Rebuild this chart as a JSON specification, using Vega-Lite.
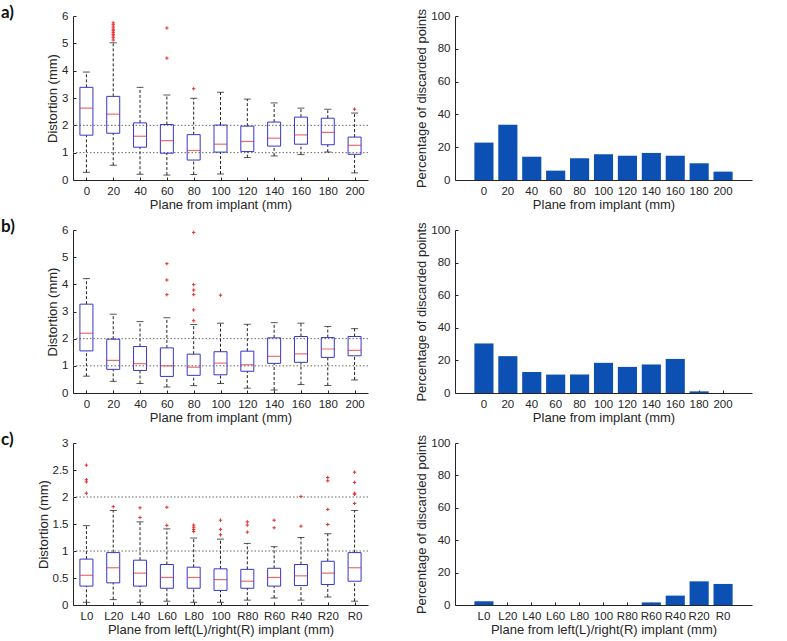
{
  "$schema": "https://vega.github.io/schema/vega-lite/v6.json",
  "background": "white",
  "padding": {"left": 1, "top": 4, "right": 5, "bottom": 0},
  "datasets": {
    "boxA": [
      {"pos": "0", "lo": 0.28, "q1": 1.64, "med": 2.63, "q3": 3.39, "hi": 3.95},
      {"pos": "20", "lo": 0.54, "q1": 1.71, "med": 2.41, "q3": 3.06, "hi": 5.02},
      {"pos": "40", "lo": 0.21, "q1": 1.2, "med": 1.6, "q3": 2.09, "hi": 3.39},
      {"pos": "60", "lo": 0.18, "q1": 0.98, "med": 1.44, "q3": 2.03, "hi": 3.11},
      {"pos": "80", "lo": 0.2, "q1": 0.73, "med": 1.08, "q3": 1.66, "hi": 2.99},
      {"pos": "100", "lo": 0.22, "q1": 1.02, "med": 1.31, "q3": 2.01, "hi": 3.21},
      {"pos": "120", "lo": 0.82, "q1": 1.04, "med": 1.41, "q3": 1.97, "hi": 2.96},
      {"pos": "140", "lo": 0.88, "q1": 1.24, "med": 1.53, "q3": 2.12, "hi": 2.82},
      {"pos": "160", "lo": 0.93, "q1": 1.31, "med": 1.65, "q3": 2.3, "hi": 2.63},
      {"pos": "180", "lo": 1.02, "q1": 1.29, "med": 1.74, "q3": 2.26, "hi": 2.59},
      {"pos": "200", "lo": 0.26, "q1": 0.94, "med": 1.27, "q3": 1.57, "hi": 2.45}
    ],
    "outA": [
      {"pos": "20", "v": 5.12}, {"pos": "20", "v": 5.2}, {"pos": "20", "v": 5.27}, {"pos": "20", "v": 5.33},
      {"pos": "20", "v": 5.4}, {"pos": "20", "v": 5.46}, {"pos": "20", "v": 5.52}, {"pos": "20", "v": 5.6},
      {"pos": "20", "v": 5.68}, {"pos": "20", "v": 5.75},
      {"pos": "60", "v": 5.56}, {"pos": "60", "v": 4.46},
      {"pos": "80", "v": 3.34},
      {"pos": "200", "v": 2.59}
    ],
    "boxB": [
      {"pos": "0", "lo": 0.62, "q1": 1.55, "med": 2.2, "q3": 3.27, "hi": 4.21},
      {"pos": "20", "lo": 0.43, "q1": 0.87, "med": 1.2, "q3": 1.98, "hi": 2.9},
      {"pos": "40", "lo": 0.35, "q1": 0.83, "med": 1.08, "q3": 1.71, "hi": 2.63},
      {"pos": "60", "lo": 0.22, "q1": 0.61, "med": 1.0, "q3": 1.66, "hi": 2.77},
      {"pos": "80", "lo": 0.27, "q1": 0.65, "med": 0.95, "q3": 1.43, "hi": 2.52},
      {"pos": "100", "lo": 0.35, "q1": 0.67, "med": 1.1, "q3": 1.52, "hi": 2.57},
      {"pos": "120", "lo": 0.18, "q1": 0.8, "med": 1.04, "q3": 1.54, "hi": 2.53},
      {"pos": "140", "lo": 0.11, "q1": 1.09, "med": 1.35, "q3": 2.03, "hi": 2.59},
      {"pos": "160", "lo": 0.31, "q1": 1.13, "med": 1.44, "q3": 2.08, "hi": 2.57},
      {"pos": "180", "lo": 0.28, "q1": 1.31, "med": 1.62, "q3": 2.04, "hi": 2.45},
      {"pos": "200", "lo": 0.48, "q1": 1.37, "med": 1.57, "q3": 2.08, "hi": 2.37}
    ],
    "outB": [
      {"pos": "60", "v": 4.76}, {"pos": "60", "v": 4.16}, {"pos": "60", "v": 3.62},
      {"pos": "80", "v": 5.91}, {"pos": "80", "v": 3.99}, {"pos": "80", "v": 3.79},
      {"pos": "80", "v": 3.62}, {"pos": "80", "v": 3.06}, {"pos": "80", "v": 2.66},
      {"pos": "100", "v": 3.6}
    ],
    "boxC": [
      {"pos": "L0", "lo": 0.05, "q1": 0.35, "med": 0.55, "q3": 0.85, "hi": 1.47},
      {"pos": "L20", "lo": 0.1, "q1": 0.41, "med": 0.69, "q3": 0.97, "hi": 1.75},
      {"pos": "L40", "lo": 0.05, "q1": 0.35, "med": 0.59, "q3": 0.83, "hi": 1.54},
      {"pos": "L60", "lo": 0.07, "q1": 0.31, "med": 0.51, "q3": 0.75, "hi": 1.41},
      {"pos": "L80", "lo": 0.05, "q1": 0.31, "med": 0.51, "q3": 0.7, "hi": 1.24},
      {"pos": "100", "lo": 0.05, "q1": 0.27, "med": 0.47, "q3": 0.67, "hi": 1.22},
      {"pos": "R80", "lo": 0.09, "q1": 0.31, "med": 0.44, "q3": 0.66, "hi": 1.14},
      {"pos": "R60", "lo": 0.13, "q1": 0.35, "med": 0.51, "q3": 0.68, "hi": 1.08},
      {"pos": "R40", "lo": 0.09, "q1": 0.36, "med": 0.54, "q3": 0.75, "hi": 1.25},
      {"pos": "R20", "lo": 0.15, "q1": 0.38, "med": 0.59, "q3": 0.81, "hi": 1.32},
      {"pos": "R0", "lo": 0.07, "q1": 0.44, "med": 0.69, "q3": 0.97, "hi": 1.75}
    ],
    "outC": [
      {"pos": "L0", "v": 2.59}, {"pos": "L0", "v": 2.32}, {"pos": "L0", "v": 2.28}, {"pos": "L0", "v": 2.07},
      {"pos": "L20", "v": 1.82},
      {"pos": "L40", "v": 1.8}, {"pos": "L40", "v": 1.62},
      {"pos": "L60", "v": 1.81}, {"pos": "L60", "v": 1.475},
      {"pos": "L80", "v": 1.48}, {"pos": "L80", "v": 1.44}, {"pos": "L80", "v": 1.4}, {"pos": "L80", "v": 1.36},
      {"pos": "100", "v": 1.57}, {"pos": "100", "v": 1.4}, {"pos": "100", "v": 1.3},
      {"pos": "R80", "v": 1.54}, {"pos": "R80", "v": 1.48}, {"pos": "R80", "v": 1.35},
      {"pos": "R60", "v": 1.57}, {"pos": "R60", "v": 1.43},
      {"pos": "R40", "v": 2.01}, {"pos": "R40", "v": 1.46},
      {"pos": "R20", "v": 2.36}, {"pos": "R20", "v": 2.3}, {"pos": "R20", "v": 1.77}, {"pos": "R20", "v": 1.49},
      {"pos": "R0", "v": 2.46}, {"pos": "R0", "v": 2.27}, {"pos": "R0", "v": 2.07}, {"pos": "R0", "v": 2.05}, {"pos": "R0", "v": 1.88}
    ],
    "refs": [{"ref": 1}, {"ref": 2}],
    "barA": [
      {"pos": "0", "pct": 22.8}, {"pos": "20", "pct": 33.7}, {"pos": "40", "pct": 14.2},
      {"pos": "60", "pct": 5.7}, {"pos": "80", "pct": 13.2}, {"pos": "100", "pct": 15.7},
      {"pos": "120", "pct": 14.8}, {"pos": "140", "pct": 16.5}, {"pos": "160", "pct": 14.8},
      {"pos": "180", "pct": 10.2}, {"pos": "200", "pct": 5.1}
    ],
    "barB": [
      {"pos": "0", "pct": 30.4}, {"pos": "20", "pct": 22.6}, {"pos": "40", "pct": 12.9},
      {"pos": "60", "pct": 11.3}, {"pos": "80", "pct": 11.3}, {"pos": "100", "pct": 18.5},
      {"pos": "120", "pct": 16.0}, {"pos": "140", "pct": 17.5}, {"pos": "160", "pct": 20.9},
      {"pos": "180", "pct": 1.0}, {"pos": "200", "pct": 0}
    ],
    "barC": [
      {"pos": "L0", "pct": 2.3}, {"pos": "L20", "pct": 0}, {"pos": "L40", "pct": 0},
      {"pos": "L60", "pct": 0}, {"pos": "L80", "pct": 0}, {"pos": "100", "pct": 0},
      {"pos": "R80", "pct": 0}, {"pos": "R60", "pct": 1.6}, {"pos": "R40", "pct": 5.8},
      {"pos": "R20", "pct": 14.6}, {"pos": "R0", "pct": 13.0}
    ]
  },
  "columns": 2,
  "spacing": {"row": 6, "column": 46},
  "concat": [
    {
      "title": {"text": "a)", "anchor": "start", "frame": "group", "dx": -72, "dy": 25, "offset": 0, "baseline": "alphabetic", "font": "Lato", "fontSize": 17, "fontWeight": "bold", "color": "#111111"},
      "width": 295, "height": 164,
      "data": {"name": "boxA"},
      "layer": [
        {"data": {"name": "refs"}, "mark": {"type": "rule", "color": "#666666", "strokeDash": [1.5, 2], "strokeWidth": 1},
         "encoding": {"y": {"field": "ref", "type": "quantitative", "title": "Distortion (mm)", "scale": {"domain": [0, 6], "nice": false}, "axis": {"values": [0, 1, 2, 3, 4, 5, 6], "format": "~g"}}}},
        {"mark": {"type": "rule", "color": "#222222", "strokeDash": [3, 2], "strokeWidth": 1},
         "encoding": {"x": {"field": "pos", "type": "nominal", "title": "Plane from implant (mm)", "scale": {"type": "point", "padding": 0.5, "domain": ["0","20","40","60","80","100","120","140","160","180","200"]}},
                      "y": {"field": "lo", "type": "quantitative", "title": "Distortion (mm)", "scale": {"domain": [0, 6], "nice": false}, "axis": {"values": [0, 1, 2, 3, 4, 5, 6], "format": "~g"}}, "y2": {"field": "q1"}}},
        {"mark": {"type": "rule", "color": "#222222", "strokeDash": [3, 2], "strokeWidth": 1},
         "encoding": {"x": {"field": "pos", "type": "nominal", "title": "Plane from implant (mm)"},
                      "y": {"field": "q3", "type": "quantitative", "title": "Distortion (mm)", "axis": {"values": [0, 1, 2, 3, 4, 5, 6], "format": "~g"}}, "y2": {"field": "hi"}}},
        {"mark": {"type": "tick", "color": "#111111", "size": 7, "thickness": 1},
         "encoding": {"x": {"field": "pos", "type": "nominal", "title": "Plane from implant (mm)"},
                      "y": {"field": "lo", "type": "quantitative", "title": "Distortion (mm)", "axis": {"values": [0, 1, 2, 3, 4, 5, 6], "format": "~g"}}}},
        {"mark": {"type": "tick", "color": "#111111", "size": 7, "thickness": 1},
         "encoding": {"x": {"field": "pos", "type": "nominal", "title": "Plane from implant (mm)"},
                      "y": {"field": "hi", "type": "quantitative", "title": "Distortion (mm)", "axis": {"values": [0, 1, 2, 3, 4, 5, 6], "format": "~g"}}}},
        {"mark": {"type": "bar", "fill": "white", "fillOpacity": 0, "stroke": "#3636cc", "strokeWidth": 1, "size": 13},
         "encoding": {"x": {"field": "pos", "type": "nominal", "title": "Plane from implant (mm)"},
                      "y": {"field": "q1", "type": "quantitative", "title": "Distortion (mm)", "axis": {"values": [0, 1, 2, 3, 4, 5, 6], "format": "~g"}}, "y2": {"field": "q3"}}},
        {"mark": {"type": "tick", "color": "#e03030", "size": 13, "thickness": 1.2},
         "encoding": {"x": {"field": "pos", "type": "nominal", "title": "Plane from implant (mm)"},
                      "y": {"field": "med", "type": "quantitative", "title": "Distortion (mm)", "axis": {"values": [0, 1, 2, 3, 4, 5, 6], "format": "~g"}}}},
        {"data": {"name": "outA"}, "mark": {"type": "point", "shape": "M-1,0H1M0,-1V1", "size": 12, "strokeWidth": 1, "color": "#e53030", "filled": false, "opacity": 1},
         "encoding": {"x": {"field": "pos", "type": "nominal", "title": "Plane from implant (mm)"},
                      "y": {"field": "v", "type": "quantitative", "title": "Distortion (mm)", "axis": {"values": [0, 1, 2, 3, 4, 5, 6], "format": "~g"}}}}
      ]
    },
    {
      "width": 297, "height": 164,
      "data": {"name": "barA"},
      "mark": {"type": "bar", "color": "#0b50b2"},
      "encoding": {
        "x": {"field": "pos", "type": "nominal", "title": "Plane from implant (mm)", "scale": {"type": "band", "paddingInner": 0.2, "paddingOuter": 0.81, "domain": ["0","20","40","60","80","100","120","140","160","180","200"]}},
        "y": {"field": "pct", "type": "quantitative", "title": "Percentage of discarded points", "scale": {"domain": [0, 100], "nice": false}, "axis": {"values": [0, 20, 40, 60, 80, 100]}}
      }
    },
    {
      "title": {"text": "b)", "anchor": "start", "frame": "group", "dx": -72, "dy": 25, "offset": 0, "baseline": "alphabetic", "font": "Lato", "fontSize": 17, "fontWeight": "bold", "color": "#111111"},
      "width": 295, "height": 163,
      "data": {"name": "boxB"},
      "layer": [
        {"data": {"name": "refs"}, "mark": {"type": "rule", "color": "#666666", "strokeDash": [1.5, 2], "strokeWidth": 1},
         "encoding": {"y": {"field": "ref", "type": "quantitative", "title": "Distortion (mm)", "scale": {"domain": [0, 6], "nice": false}, "axis": {"values": [0, 1, 2, 3, 4, 5, 6], "format": "~g"}}}},
        {"mark": {"type": "rule", "color": "#222222", "strokeDash": [3, 2], "strokeWidth": 1},
         "encoding": {"x": {"field": "pos", "type": "nominal", "title": "Plane from implant (mm)", "scale": {"type": "point", "padding": 0.5, "domain": ["0","20","40","60","80","100","120","140","160","180","200"]}},
                      "y": {"field": "lo", "type": "quantitative", "title": "Distortion (mm)", "scale": {"domain": [0, 6], "nice": false}, "axis": {"values": [0, 1, 2, 3, 4, 5, 6], "format": "~g"}}, "y2": {"field": "q1"}}},
        {"mark": {"type": "rule", "color": "#222222", "strokeDash": [3, 2], "strokeWidth": 1},
         "encoding": {"x": {"field": "pos", "type": "nominal", "title": "Plane from implant (mm)"},
                      "y": {"field": "q3", "type": "quantitative", "title": "Distortion (mm)", "axis": {"values": [0, 1, 2, 3, 4, 5, 6], "format": "~g"}}, "y2": {"field": "hi"}}},
        {"mark": {"type": "tick", "color": "#111111", "size": 7, "thickness": 1},
         "encoding": {"x": {"field": "pos", "type": "nominal", "title": "Plane from implant (mm)"},
                      "y": {"field": "lo", "type": "quantitative", "title": "Distortion (mm)", "axis": {"values": [0, 1, 2, 3, 4, 5, 6], "format": "~g"}}}},
        {"mark": {"type": "tick", "color": "#111111", "size": 7, "thickness": 1},
         "encoding": {"x": {"field": "pos", "type": "nominal", "title": "Plane from implant (mm)"},
                      "y": {"field": "hi", "type": "quantitative", "title": "Distortion (mm)", "axis": {"values": [0, 1, 2, 3, 4, 5, 6], "format": "~g"}}}},
        {"mark": {"type": "bar", "fill": "white", "fillOpacity": 0, "stroke": "#3636cc", "strokeWidth": 1, "size": 13},
         "encoding": {"x": {"field": "pos", "type": "nominal", "title": "Plane from implant (mm)"},
                      "y": {"field": "q1", "type": "quantitative", "title": "Distortion (mm)", "axis": {"values": [0, 1, 2, 3, 4, 5, 6], "format": "~g"}}, "y2": {"field": "q3"}}},
        {"mark": {"type": "tick", "color": "#e03030", "size": 13, "thickness": 1.2},
         "encoding": {"x": {"field": "pos", "type": "nominal", "title": "Plane from implant (mm)"},
                      "y": {"field": "med", "type": "quantitative", "title": "Distortion (mm)", "axis": {"values": [0, 1, 2, 3, 4, 5, 6], "format": "~g"}}}},
        {"data": {"name": "outB"}, "mark": {"type": "point", "shape": "M-1,0H1M0,-1V1", "size": 12, "strokeWidth": 1, "color": "#e53030", "filled": false, "opacity": 1},
         "encoding": {"x": {"field": "pos", "type": "nominal", "title": "Plane from implant (mm)"},
                      "y": {"field": "v", "type": "quantitative", "title": "Distortion (mm)", "axis": {"values": [0, 1, 2, 3, 4, 5, 6], "format": "~g"}}}}
      ]
    },
    {
      "width": 297, "height": 163,
      "data": {"name": "barB"},
      "mark": {"type": "bar", "color": "#0b50b2"},
      "encoding": {
        "x": {"field": "pos", "type": "nominal", "title": "Plane from implant (mm)", "scale": {"type": "band", "paddingInner": 0.2, "paddingOuter": 0.81, "domain": ["0","20","40","60","80","100","120","140","160","180","200"]}},
        "y": {"field": "pct", "type": "quantitative", "title": "Percentage of discarded points", "scale": {"domain": [0, 100], "nice": false}, "axis": {"values": [0, 20, 40, 60, 80, 100]}}
      }
    },
    {
      "title": {"text": "c)", "anchor": "start", "frame": "group", "dx": -72, "dy": 25, "offset": 0, "baseline": "alphabetic", "font": "Lato", "fontSize": 17, "fontWeight": "bold", "color": "#111111"},
      "width": 295, "height": 162,
      "data": {"name": "boxC"},
      "layer": [
        {"data": {"name": "refs"}, "mark": {"type": "rule", "color": "#666666", "strokeDash": [1.5, 2], "strokeWidth": 1},
         "encoding": {"y": {"field": "ref", "type": "quantitative", "title": "Distortion (mm)", "scale": {"domain": [0, 3], "nice": false}, "axis": {"values": [0, 0.5, 1, 1.5, 2, 2.5, 3], "format": "~g"}}}},
        {"mark": {"type": "rule", "color": "#222222", "strokeDash": [3, 2], "strokeWidth": 1},
         "encoding": {"x": {"field": "pos", "type": "nominal", "title": "Plane from left(L)/right(R) implant (mm)", "scale": {"type": "point", "padding": 0.5, "domain": ["L0","L20","L40","L60","L80","100","R80","R60","R40","R20","R0"]}},
                      "y": {"field": "lo", "type": "quantitative", "title": "Distortion (mm)", "scale": {"domain": [0, 3], "nice": false}, "axis": {"values": [0, 0.5, 1, 1.5, 2, 2.5, 3], "format": "~g"}}, "y2": {"field": "q1"}}},
        {"mark": {"type": "rule", "color": "#222222", "strokeDash": [3, 2], "strokeWidth": 1},
         "encoding": {"x": {"field": "pos", "type": "nominal", "title": "Plane from left(L)/right(R) implant (mm)"},
                      "y": {"field": "q3", "type": "quantitative", "title": "Distortion (mm)", "axis": {"values": [0, 0.5, 1, 1.5, 2, 2.5, 3], "format": "~g"}}, "y2": {"field": "hi"}}},
        {"mark": {"type": "tick", "color": "#111111", "size": 7, "thickness": 1},
         "encoding": {"x": {"field": "pos", "type": "nominal", "title": "Plane from left(L)/right(R) implant (mm)"},
                      "y": {"field": "lo", "type": "quantitative", "title": "Distortion (mm)", "axis": {"values": [0, 0.5, 1, 1.5, 2, 2.5, 3], "format": "~g"}}}},
        {"mark": {"type": "tick", "color": "#111111", "size": 7, "thickness": 1},
         "encoding": {"x": {"field": "pos", "type": "nominal", "title": "Plane from left(L)/right(R) implant (mm)"},
                      "y": {"field": "hi", "type": "quantitative", "title": "Distortion (mm)", "axis": {"values": [0, 0.5, 1, 1.5, 2, 2.5, 3], "format": "~g"}}}},
        {"mark": {"type": "bar", "fill": "white", "fillOpacity": 0, "stroke": "#3636cc", "strokeWidth": 1, "size": 13},
         "encoding": {"x": {"field": "pos", "type": "nominal", "title": "Plane from left(L)/right(R) implant (mm)"},
                      "y": {"field": "q1", "type": "quantitative", "title": "Distortion (mm)", "axis": {"values": [0, 0.5, 1, 1.5, 2, 2.5, 3], "format": "~g"}}, "y2": {"field": "q3"}}},
        {"mark": {"type": "tick", "color": "#e03030", "size": 13, "thickness": 1.2},
         "encoding": {"x": {"field": "pos", "type": "nominal", "title": "Plane from left(L)/right(R) implant (mm)"},
                      "y": {"field": "med", "type": "quantitative", "title": "Distortion (mm)", "axis": {"values": [0, 0.5, 1, 1.5, 2, 2.5, 3], "format": "~g"}}}},
        {"data": {"name": "outC"}, "mark": {"type": "point", "shape": "M-1,0H1M0,-1V1", "size": 12, "strokeWidth": 1, "color": "#e53030", "filled": false, "opacity": 1},
         "encoding": {"x": {"field": "pos", "type": "nominal", "title": "Plane from left(L)/right(R) implant (mm)"},
                      "y": {"field": "v", "type": "quantitative", "title": "Distortion (mm)", "axis": {"values": [0, 0.5, 1, 1.5, 2, 2.5, 3], "format": "~g"}}}}
      ]
    },
    {
      "width": 297, "height": 162,
      "data": {"name": "barC"},
      "mark": {"type": "bar", "color": "#0b50b2"},
      "encoding": {
        "x": {"field": "pos", "type": "nominal", "title": "Plane from left(L)/right(R) implant (mm)", "scale": {"type": "band", "paddingInner": 0.2, "paddingOuter": 0.81, "domain": ["L0","L20","L40","L60","L80","100","R80","R60","R40","R20","R0"]}},
        "y": {"field": "pct", "type": "quantitative", "title": "Percentage of discarded points", "scale": {"domain": [0, 100], "nice": false}, "axis": {"values": [0, 20, 40, 60, 80, 100]}}
      }
    }
  ],
  "config": {
    "view": {"stroke": null},
    "font": "Liberation Sans",
    "axis": {
      "domainColor": "#262626", "tickColor": "#262626", "labelColor": "#262626", "titleColor": "#262626",
      "labelFont": "Liberation Sans", "titleFont": "Liberation Sans", "labelFontSize": 11.5, "titleFontSize": 13,
      "titleFontWeight": "normal", "grid": false, "tickSize": -3, "labelPadding": 8, "labelOverlap": false,
      "labelFlush": false, "domainWidth": 1, "tickWidth": 1
    },
    "axisX": {"labelAngle": 0, "titlePadding": 2},
    "axisY": {"titlePadding": 2}
  }
}
